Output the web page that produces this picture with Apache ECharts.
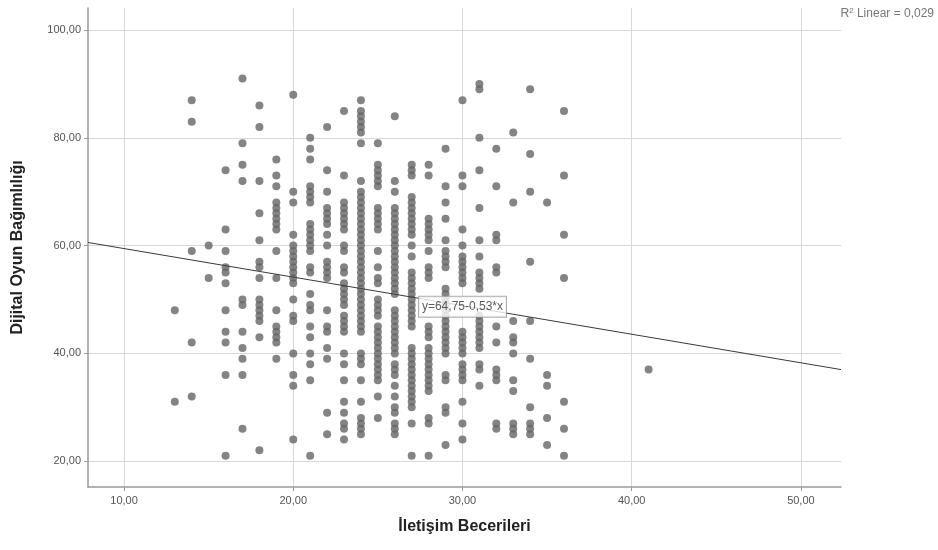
<!DOCTYPE html>
<html>
<head>
<meta charset="utf-8">
<script src="https://cdn.jsdelivr.net/npm/echarts@6/dist/echarts.min.js"></script>
<style>
  html, body { margin: 0; padding: 0; background: #fff; }
  #chart { width: 938px; height: 550px; }
</style>
</head>
<body>
<div id="chart"></div>
<script>
// x values (İletişim Becerileri), one entry per column of points
const xCols = [13, 14, 15, 16, 17, 18, 19, 20, 21, 22, 23, 24, 25, 26, 27, 28, 29, 30, 31, 32, 33, 34, 35, 36, 41]

// y values (Dijital Oyun Bağımlılığı) seen in each column
const yCols = [
  [48, 31],
  [87, 83, 59, 42, 32],
  [60, 54],
  [74, 63, 59, 56, 55, 53, 48, 44, 42, 36, 21],
  [91, 79, 75, 72, 50, 49, 44, 41, 39, 36, 26],
  [86, 82, 72, 66, 61, 57, 56, 54, 50, 49, 48, 47, 46, 43, 22],
  [76, 73, 71, 68, 67, 66, 65, 64, 63, 59, 54, 48, 45, 44, 43, 42, 39],
  [88, 70, 68, 62, 60, 59, 58, 57, 56, 55, 54, 53, 50, 47, 46, 40, 36, 34, 24],
  [80, 78, 76, 71, 70, 69, 68, 64, 63, 62, 61, 60, 59, 56, 55, 51, 49, 48, 45, 43, 40, 38, 35, 21],
  [82, 74, 70, 67, 66, 65, 64, 62, 60, 57, 56, 55, 54, 48, 45, 44, 41, 39, 29, 25],
  [85, 73, 68, 67, 66, 65, 64, 63, 60, 59, 56, 55, 53, 52, 51, 50, 49, 47, 46, 45, 44, 40, 38, 35, 31, 29, 27, 26, 24],
  [87, 85, 84, 83, 82, 81, 79, 72, 70, 69, 68, 67, 66, 65, 64, 63, 62, 61, 60, 59, 58, 57, 56, 55, 54, 53, 52, 51, 50, 49, 48, 47, 46, 45, 44, 40, 39, 38, 35, 31, 28, 27, 26, 25],
  [79, 75, 74, 73, 72, 71, 67, 66, 65, 64, 63, 59, 56, 54, 53, 50, 49, 48, 47, 45, 44, 43, 42, 41, 40, 39, 38, 37, 36, 35, 32, 28],
  [84, 72, 70, 67, 66, 65, 64, 63, 62, 61, 60, 59, 58, 57, 56, 55, 54, 53, 52, 51, 48, 47, 46, 45, 44, 43, 42, 41, 40, 38, 37, 36, 34, 32, 30, 29, 27, 26, 25],
  [75, 74, 73, 69, 68, 67, 66, 65, 64, 63, 62, 60, 58, 55, 54, 53, 52, 51, 50, 49, 48, 47, 46, 45, 41, 40, 39, 38, 37, 36, 35, 34, 33, 32, 31, 30, 27, 21],
  [75, 73, 65, 64, 63, 62, 61, 59, 56, 55, 54, 45, 44, 43, 41, 40, 39, 38, 37, 36, 35, 34, 33, 28, 27, 21],
  [78, 71, 68, 65, 61, 59, 58, 57, 56, 52, 51, 50, 49, 48, 47, 46, 45, 44, 43, 42, 41, 40, 36, 35, 30, 29, 23],
  [87, 73, 71, 63, 60, 58, 57, 56, 55, 54, 53, 44, 43, 42, 41, 40, 38, 37, 36, 35, 31, 27, 24],
  [90, 89, 80, 74, 67, 61, 58, 55, 54, 53, 52, 47, 46, 45, 44, 43, 42, 41, 38, 37, 34],
  [78, 71, 62, 61, 56, 55, 45, 42, 37, 36, 35, 27, 26],
  [81, 68, 46, 43, 42, 40, 35, 33, 27, 26, 25],
  [89, 77, 70, 57, 46, 39, 30, 27, 26, 25],
  [68, 36, 34, 28, 23],
  [85, 73, 62, 54, 31, 26, 21],
  [37]
]

const xTicks = [10, 20, 30, 40, 50]
const yTicks = [20, 40, 60, 80, 100]

// fit line y = a + b*x
const fitA = 64.75
const fitB = -0.53
const fitLabelX = 30

const xMin = 7.87
const xMax = 52.37
const yMin = 15.2
const yMax = 104.1

const points = []
xCols.forEach((x, i) => {
  yCols[i].forEach(y => points.push([x, y]))
})

const fitY = x => fitA + fitB * x
const fmt = v => v.toFixed(2).replace('.', ',')

const chart = echarts.init(document.getElementById('chart'))
chart.setOption({
  animation: false,
  textStyle: { fontFamily: 'Arial, "Liberation Sans", sans-serif' },
  grid: { left: 88, right: 97, top: 8, bottom: 63 },
  xAxis: {
    type: 'value',
    min: xMin,
    max: xMax,
    name: 'İletişim Becerileri',
    nameLocation: 'middle',
    nameGap: 32,
    nameTextStyle: { fontSize: 16, fontWeight: 'bold', color: '#222' },
    axisLine: { show: true, onZero: false, lineStyle: { color: '#9a9a9a', width: 1.5 } },
    axisTick: { show: true, customValues: xTicks, length: 4, lineStyle: { color: '#9a9a9a' } },
    axisLabel: { customValues: xTicks, formatter: fmt, color: '#555', fontSize: 11, margin: 8 },
    splitLine: { show: true, lineStyle: { color: '#d9d9d9', width: 1 } }
  },
  yAxis: {
    type: 'value',
    min: yMin,
    max: yMax,
    name: 'Dijital Oyun Bağımlılığı',
    nameLocation: 'middle',
    nameGap: 62,
    nameTextStyle: { fontSize: 16, fontWeight: 'bold', color: '#222' },
    axisLine: { show: true, onZero: false, lineStyle: { color: '#9a9a9a', width: 1.5 } },
    axisTick: { show: true, customValues: yTicks, length: 4, lineStyle: { color: '#9a9a9a' } },
    axisLabel: { customValues: yTicks, formatter: fmt, color: '#555', fontSize: 11, margin: 7 },
    splitLine: { show: true, lineStyle: { color: '#d9d9d9', width: 1 } }
  },
  series: [
    {
      type: 'scatter',
      data: points,
      symbolSize: 8,
      itemStyle: { color: '#656565' },
      z: 2
    },
    {
      type: 'line',
      data: [
        [xMin, fitY(xMin)],
        [xMax, fitY(xMax)]
      ],
      showSymbol: false,
      symbol: 'none',
      lineStyle: { color: '#3a3a3a', width: 1 },
      z: 3
    },
    {
      // equation label sitting on the fit line
      type: 'scatter',
      data: [[fitLabelX, fitY(fitLabelX)]],
      symbolSize: 1,
      itemStyle: { color: 'rgba(0,0,0,0)' },
      label: {
        show: true,
        position: 'inside',
        offset: [0, 1],
        formatter: () => 'y=' + fmt(fitA) + '-' + fmt(-fitB) + '*x',
        backgroundColor: '#fff',
        borderColor: '#9a9a9a',
        borderWidth: 1,
        padding: [4, 3, 4, 3],
        color: '#333',
        fontSize: 12
      },
      z: 4
    }
  ],
  graphic: [
    {
      type: 'text',
      right: 4,
      top: 7,
      style: {
        text: 'R{sup|2} Linear = 0,029',
        fill: '#777',
        fontSize: 12,
        rich: { sup: { fontSize: 8, verticalAlign: 'top', fill: '#777', padding: [0, 0, 5, 0] } }
      }
    }
  ]
})
</script>
</body>
</html>
